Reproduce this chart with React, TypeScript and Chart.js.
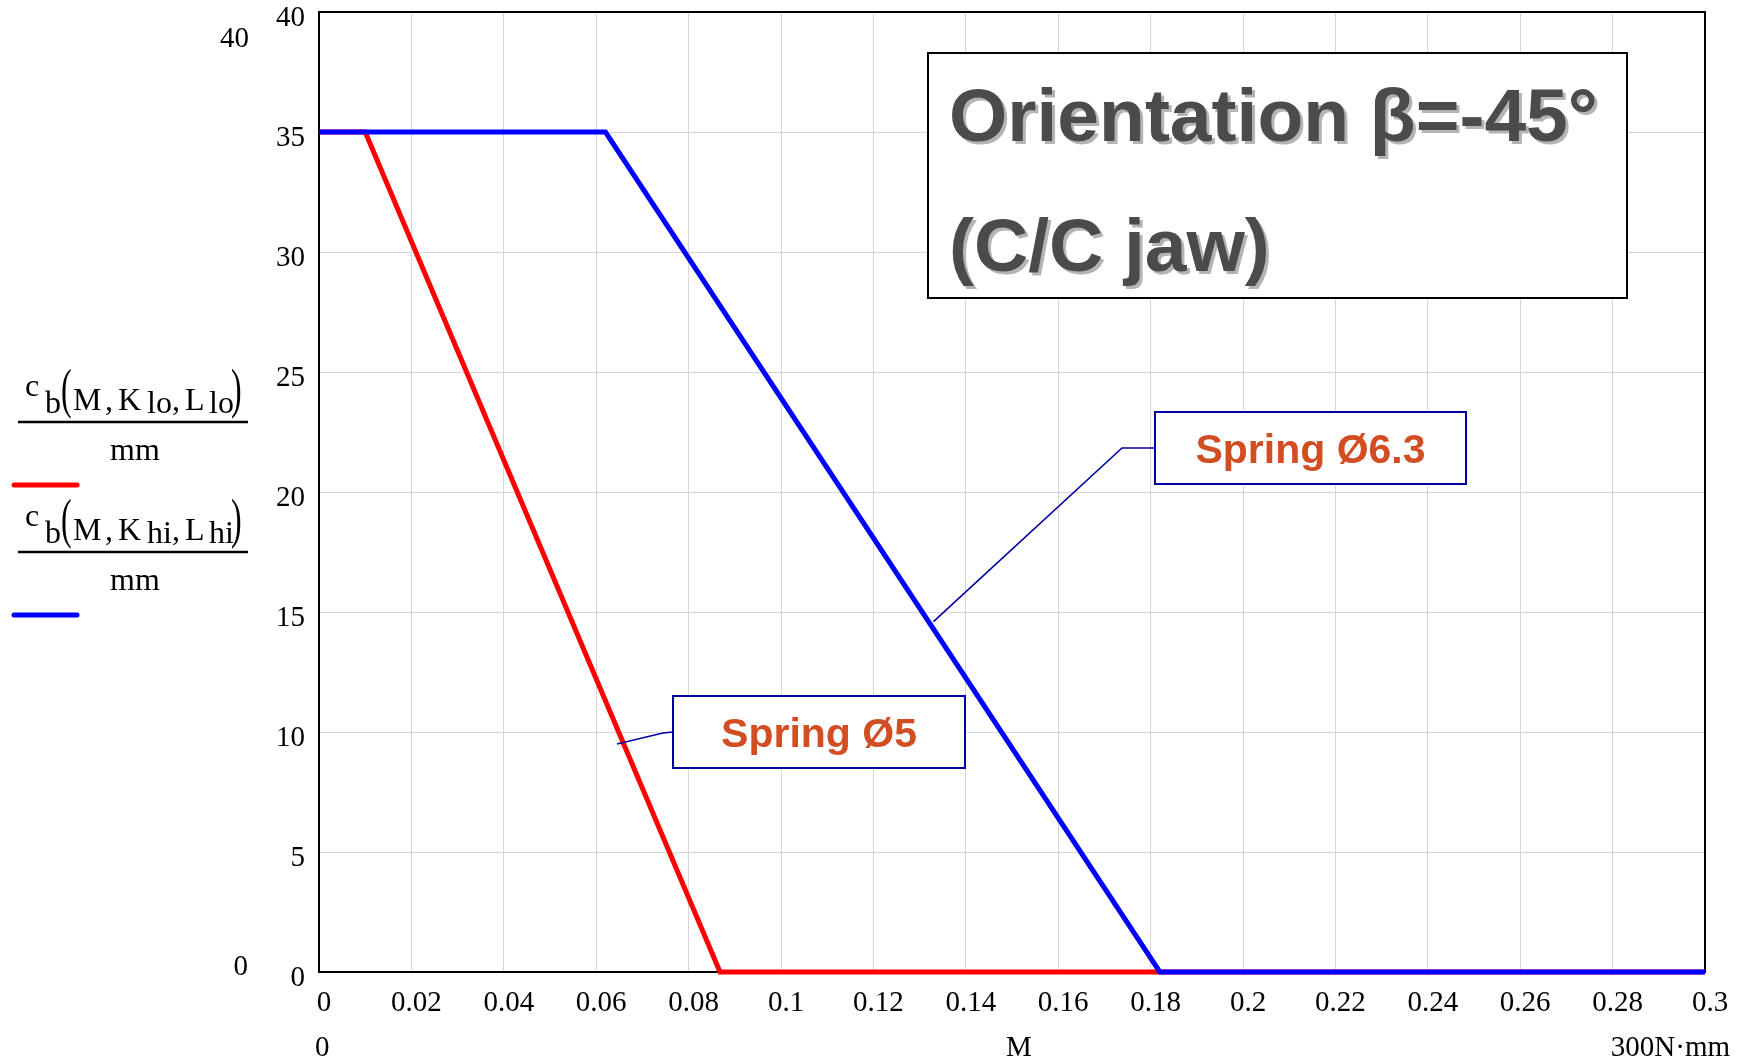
import React, { useEffect, useRef } from 'react';
import { Chart, registerables } from 'chart.js';

Chart.register(...registerables);

// ---- data ----
const loM = [0, 0.01, 0.0868, 0.3];
const loC = [35, 35, 0, 0];
const hiM = [0, 0.062, 0.182, 0.3];
const hiC = [35, 35, 0, 0];

const xMin = 0;
const xMax = 0.3;
const xStep = 0.02;
const yMin = 0;
const yMax = 40;
const yStep = 5;

const titleLines = ['Orientation β=-45°', '(C/C jaw)'];
const springLabels = ['Spring Ø6.3', 'Spring Ø5'];
// leader targets in data units (M, c)
const leaderHi = [0.133, 14.6];
const leaderLo = [0.0645, 9.5];

const SERIF = '"Liberation Serif", "Times New Roman", serif';
const SANS = '"Liberation Sans", Arial, sans-serif';

function drawFraction(ctx: CanvasRenderingContext2D, lineY: number, sub: string, color: string) {
  ctx.save();
  ctx.fillStyle = '#000';
  ctx.textAlign = 'left';
  ctx.textBaseline = 'alphabetic';
  ctx.font = `32px ${SERIF}`;
  const mainBase = lineY - 12;
  const subBase = lineY - 9;
  ctx.fillText('c', 25, lineY - 26);
  ctx.fillText('b', 45, subBase);
  // big parens
  const parenBase = lineY - 15;
  ctx.save();
  ctx.translate(61, parenBase);
  ctx.scale(1, 1.7);
  ctx.fillText('(', 0, 0);
  ctx.restore();
  ctx.fillText('M', 73, mainBase);
  ctx.fillText(',', 105, mainBase);
  ctx.fillText('K', 118, mainBase);
  ctx.fillText(sub, 147, subBase);
  ctx.fillText(',', 172, mainBase);
  ctx.fillText('L', 185, mainBase);
  ctx.fillText(sub, 209, subBase);
  ctx.save();
  ctx.translate(231, parenBase);
  ctx.scale(1, 1.7);
  ctx.fillText(')', 0, 0);
  ctx.restore();
  // fraction bar
  ctx.strokeStyle = '#000';
  ctx.lineWidth = 2.5;
  ctx.beginPath();
  ctx.moveTo(18, lineY);
  ctx.lineTo(248, lineY);
  ctx.stroke();
  ctx.textAlign = 'center';
  ctx.fillText('mm', 135, lineY + 38);
  // legend line
  ctx.strokeStyle = color;
  ctx.lineWidth = 5;
  ctx.lineCap = 'round';
  ctx.beginPath();
  ctx.moveTo(14, lineY + 63);
  ctx.lineTo(77, lineY + 63);
  ctx.stroke();
  ctx.restore();
}

const decoPlugin = {
  id: 'deco',
  beforeDatasetsDraw(chart: any) {
    const { ctx, chartArea: a } = chart;
    ctx.save();
    ctx.strokeStyle = '#000';
    ctx.lineWidth = 2;
    ctx.strokeRect(a.left, a.top, a.right - a.left, a.bottom - a.top);
    ctx.restore();
  },
  afterDraw(chart: any) {
    const { ctx } = chart;
    const xs = chart.scales.x;
    const ys = chart.scales.y;
    ctx.save();

    // legend fractions
    drawFraction(ctx, 422, 'lo', '#ff0000');
    drawFraction(ctx, 552, 'hi', '#0000ff');

    // axis limit labels
    ctx.fillStyle = '#000';
    ctx.font = `29px ${SERIF}`;
    ctx.textBaseline = 'alphabetic';
    ctx.textAlign = 'right';
    ctx.fillText(String(yMax), 249, 47);
    ctx.fillText(String(yMin), 248, 975);
    ctx.textAlign = 'left';
    ctx.fillText(String(xMin), 315, 1056);
    ctx.textAlign = 'center';
    ctx.fillText('M', 1019, 1056);
    ctx.textAlign = 'right';
    ctx.fillText('300N·mm', 1730, 1056);

    // title box
    ctx.fillStyle = '#fff';
    ctx.fillRect(928, 53, 699, 245);
    ctx.strokeStyle = '#000';
    ctx.lineWidth = 2;
    ctx.strokeRect(928, 53, 699, 245);
    ctx.font = `bold 75px ${SANS}`;
    ctx.textAlign = 'left';
    const titleBases = [141, 271];
    titleLines.forEach((t, i) => {
      ctx.fillStyle = '#b4b4b4';
      ctx.fillText(t, 952, titleBases[i] + 3);
      ctx.fillStyle = '#4b4b4b';
      ctx.fillText(t, 949, titleBases[i]);
    });

    // spring boxes with leaders
    const leaderColor = '#0000a0';
    ctx.strokeStyle = leaderColor;
    ctx.lineWidth = 1.6;
    ctx.beginPath();
    ctx.moveTo(1155, 448);
    ctx.lineTo(1122, 448);
    ctx.lineTo(xs.getPixelForValue(leaderHi[0]), ys.getPixelForValue(leaderHi[1]));
    ctx.stroke();
    ctx.beginPath();
    ctx.moveTo(673, 732);
    ctx.lineTo(663, 733);
    ctx.lineTo(xs.getPixelForValue(leaderLo[0]), ys.getPixelForValue(leaderLo[1]));
    ctx.stroke();

    const boxes = [
      { x: 1155, y: 412, w: 311, h: 72, text: springLabels[0] },
      { x: 673, y: 696, w: 292, h: 72, text: springLabels[1] },
    ];
    boxes.forEach((b) => {
      ctx.fillStyle = '#fff';
      ctx.fillRect(b.x, b.y, b.w, b.h);
      ctx.strokeStyle = leaderColor;
      ctx.lineWidth = 2;
      ctx.strokeRect(b.x, b.y, b.w, b.h);
      ctx.fillStyle = '#d24e22';
      ctx.font = `bold 41px ${SANS}`;
      ctx.textAlign = 'center';
      ctx.textBaseline = 'alphabetic';
      ctx.fillText(b.text, b.x + b.w / 2, b.y + 51);
    });

    ctx.restore();
  },
};

const fmt = (v: any) => String(parseFloat(Number(v).toFixed(3)));

export default function App() {
  const ref = useRef<HTMLCanvasElement>(null);
  useEffect(() => {
    const tickFont = { family: SERIF, size: 29 };
    const chart = new Chart(ref.current as HTMLCanvasElement, {
      type: 'line',
      data: {
        datasets: [
          {
            data: loM.map((m, i) => ({ x: m, y: loC[i] })),
            borderColor: '#ff0000',
            backgroundColor: '#ff0000',
            borderWidth: 5,
            pointRadius: 0,
            tension: 0,
            clip: false as any,
            order: 1,
          },
          {
            data: hiM.map((m, i) => ({ x: m, y: hiC[i] })),
            borderColor: '#0000ff',
            backgroundColor: '#0000ff',
            borderWidth: 5,
            pointRadius: 0,
            tension: 0,
            clip: false as any,
            order: 0,
          },
        ],
      },
      options: {
        animation: false,
        responsive: false,
        layout: { padding: { left: 0, top: 12, right: 41, bottom: 0 } },
        plugins: { legend: { display: false }, tooltip: { enabled: false } },
        scales: {
          x: {
            type: 'linear',
            min: xMin,
            max: xMax,
            ticks: {
              stepSize: xStep,
              font: tickFont,
              color: '#000',
              padding: 14,
              labelOffset: 5,
              maxRotation: 0,
              autoSkip: false,
              callback: fmt,
            },
            grid: { color: '#d6d6d6', lineWidth: 1, drawTicks: false },
            border: { display: false },
            afterFit: (s: any) => {
              s.height = 87;
              s.paddingLeft = 0;
              s.paddingRight = 0;
            },
          },
          y: {
            type: 'linear',
            min: yMin,
            max: yMax,
            ticks: {
              stepSize: yStep,
              font: tickFont,
              color: '#000',
              padding: 14,
              labelOffset: 6,
              callback: fmt,
            },
            grid: { color: '#d6d6d6', lineWidth: 1, drawTicks: false },
            border: { display: false },
            afterFit: (s: any) => {
              s.width = 319;
              s.paddingTop = 0;
              s.paddingBottom = 0;
            },
          },
        },
      } as any,
      plugins: [decoPlugin],
    });
    return () => chart.destroy();
  }, []);

  return (
    <div style={{ position: 'fixed', left: 0, top: 0, width: 1746, height: 1059, background: '#fff' }}>
      <canvas ref={ref} width={1746} height={1059} style={{ width: 1746, height: 1059, display: 'block' }} />
    </div>
  );
}
